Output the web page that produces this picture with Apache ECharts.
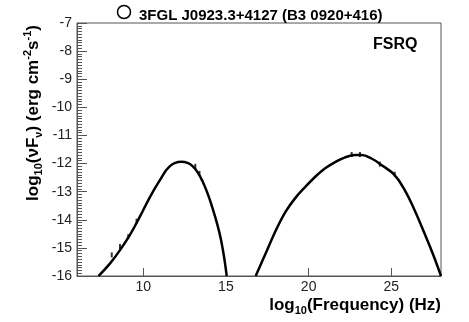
<!DOCTYPE html>
<html>
<head>
<meta charset="utf-8">
<script src="https://cdn.jsdelivr.net/npm/echarts@6/dist/echarts.min.js"></script>
<style>
  html, body { margin: 0; padding: 0; background: #fff; }
  #chart { width: 469px; height: 322px; }
</style>
</head>
<body>
<div id="chart"></div>
<script>
// synchrotron hump
const syncX = [7.3, 8.0, 8.6, 9.2, 9.8, 10.4, 11.0, 11.6, 12.3, 13.0, 13.6, 14.2, 14.7, 15.05];
const syncY = [-16.0, -15.55, -15.08, -14.54, -13.89, -13.2, -12.6, -12.1, -11.94, -12.1, -12.65, -13.6, -14.7, -16.0];

// inverse compton hump
const icX = [16.8, 17.4, 18.0, 18.6, 19.2, 19.8, 20.4, 21.0, 21.6, 22.2, 22.8, 23.2, 23.8, 24.4, 25.2, 25.8, 26.4, 27.0, 27.5, 28.0];
const icY = [-16.0, -15.2, -14.4, -13.72, -13.22, -12.83, -12.47, -12.17, -11.95, -11.78, -11.7, -11.7, -11.82, -12.05, -12.41, -12.94, -13.65, -14.48, -15.2, -16.0];

// measured points
const ptX = [8.1, 8.6, 9.1, 9.6, 13.15, 13.4, 22.6, 23.1, 24.3, 25.2];
const ptY = [-15.25, -14.95, -14.6, -14.05, -12.1, -12.35, -11.68, -11.68, -12.02, -12.38];

const FONT = 'Liberation Sans, Arial, sans-serif';
const chart = echarts.init(document.getElementById('chart'));

const zip = (xs, ys) => xs.map((x, i) => [x, ys[i]]);

const tickColor = '#555';

const subRich = {
  b: { fontSize: 17, fontWeight: 'bold', fontFamily: FONT, color: '#000', lineHeight: 22 },
  sub: { fontSize: 11, fontWeight: 'bold', fontFamily: FONT, color: '#000', lineHeight: 12, verticalAlign: 'bottom' },
  sup: { fontSize: 11, fontWeight: 'bold', fontFamily: FONT, color: '#000', lineHeight: 11, verticalAlign: 'top' },
};

chart.setOption({
  animation: false,
  title: {
    text: '3FGL J0923.3+4127 (B3 0920+416)',
    left: 134,
    top: 3,
    textStyle: { fontSize: 15, fontWeight: 'bold', fontFamily: FONT, color: '#000' },
  },
  // grid border gives the top/right frame
  grid: {
    left: 77, right: 28, top: 23, bottom: 46,
    show: true, borderColor: tickColor, borderWidth: 1, backgroundColor: 'transparent',
  },
  xAxis: {
    type: 'value',
    min: 6,
    max: 28,
    splitLine: { show: false },
    axisLine: { show: true, lineStyle: { color: tickColor, width: 1 } },
    axisTick: { show: true, inside: true, length: 8, lineStyle: { color: tickColor, width: 1 } },
    axisLabel: { showMinLabel: false, showMaxLabel: false, fontSize: 14, fontFamily: FONT, color: '#222', margin: 4 },
  },
  yAxis: {
    type: 'value',
    min: -16,
    max: -7,
    interval: 1,
    splitLine: { show: false },
    axisLine: { show: true, lineStyle: { color: tickColor, width: 1 } },
    axisTick: { show: true, inside: true, length: 10, lineStyle: { color: tickColor, width: 1 } },
    minorTick: { show: true, splitNumber: 10, length: 5, lineStyle: { color: tickColor, width: 1 } },
    axisLabel: { fontSize: 14, fontFamily: FONT, color: '#222', margin: 5 },
  },
  graphic: [
    {
      type: 'circle',
      shape: { cx: 124, cy: 12, r: 6.5 },
      style: { fill: 'none', stroke: '#000', lineWidth: 1.5 },
    },
    {
      type: 'text',
      x: 373,
      y: 45,
      style: { text: 'FSRQ', font: 'bold 16px ' + FONT, fill: '#000', verticalAlign: 'middle' },
    },
    {
      type: 'text',
      x: 441,
      y: 305,
      style: {
        text: '{b|log}{sub|10}{b|(Frequency) (Hz)}',
        rich: subRich,
        align: 'right',
        verticalAlign: 'middle',
      },
    },
    {
      type: 'text',
      x: 33,
      y: 113,
      rotation: Math.PI / 2,
      style: {
        text: '{b|log}{sub|10}{b|(νF}{sub|ν}{b|) (erg cm}{sup|-2}{b|s}{sup|-1}{b|)}',
        rich: subRich,
        align: 'center',
        verticalAlign: 'middle',
      },
    },
  ],
  series: [
    {
      type: 'line',
      data: zip(syncX, syncY),
      smooth: 0.4,
      showSymbol: false,
      lineStyle: { color: '#000', width: 2.5 },
    },
    {
      type: 'line',
      data: zip(icX, icY),
      smooth: 0.4,
      showSymbol: false,
      lineStyle: { color: '#000', width: 2.5 },
    },
    {
      type: 'scatter',
      data: zip(ptX, ptY),
      symbol: 'rect',
      symbolSize: [2, 5],
      itemStyle: { color: '#000' },
    },
  ],
});
</script>
</body>
</html>
